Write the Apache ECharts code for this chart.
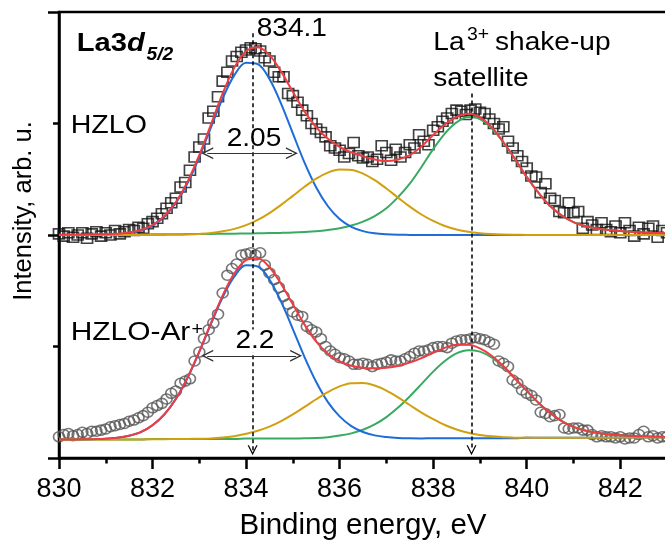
<!DOCTYPE html>
<html>
<head>
<meta charset="utf-8">
<script src="https://cdn.jsdelivr.net/npm/echarts@6/dist/echarts.min.js"></script>
<style>
    html, body { margin: 0; padding: 0; background: #fff; }
    #chart { width: 665px; height: 543px; }
</style>
</head>
<body>
<div id="chart"></div>
<script>
// energy grids (eV)
var scanStart = 830, scanStep = 0.1;
var fitStart = 830, fitStep = 0.25;
var xTickLabels = ['830', '832', '834', '836', '838', '840', '842'];

// HZLO measured points (squares), one every 0.1 eV
var hzloScan = [
    2.01, 1.99, 2.02, 1.98, 2.00, 2.02, 1.97, 2.01, 2.03, 1.99,
    2.02, 2.00, 2.04, 2.01, 2.03, 2.05, 2.04, 2.07, 2.06, 2.10,
    2.12, 2.15, 2.19, 2.24, 2.29, 2.33, 2.43, 2.47, 2.58, 2.70,
    2.79, 2.86, 3.05, 3.11, 3.24, 3.38, 3.46, 3.56, 3.60, 3.64,
    3.66, 3.68, 3.67, 3.65, 3.59, 3.56, 3.46, 3.42, 3.42, 3.27,
    3.25, 3.19, 3.12, 3.07, 3.00, 2.95, 2.92, 2.88, 2.80, 2.78,
    2.76, 2.70, 2.73, 2.83, 2.71, 2.69, 2.70, 2.66, 2.68, 2.80,
    2.74, 2.67, 2.77, 2.70, 2.74, 2.81, 2.78, 2.90, 2.84, 2.81,
    2.94, 2.97, 3.02, 3.05, 3.09, 3.12, 3.11, 3.08, 3.12, 3.13,
    3.10, 3.09, 3.04, 3.00, 2.95, 2.97, 2.84, 2.78, 2.71, 2.66,
    2.60, 2.53, 2.52, 2.38, 2.46, 2.33, 2.31, 2.21, 2.20, 2.29,
    2.20, 2.21, 2.06, 2.12, 2.09, 2.05, 2.11, 2.05, 2.03, 2.08,
    2.02, 2.11, 2.04, 1.99, 2.07, 2.01, 2.06, 2.08, 1.98, 2.04,
    2.02
];
// HZLO fit curves, one every 0.25 eV
var hzloEnvelope = [
    2.003, 2.003, 2.003, 2.005, 2.007, 2.011, 2.023, 2.045, 2.090, 2.169,
    2.296, 2.479, 2.718, 2.993, 3.270, 3.501, 3.647, 3.683, 3.613, 3.465,
    3.284, 3.109, 2.966, 2.863, 2.790, 2.742, 2.706, 2.677, 2.663, 2.677,
    2.716, 2.794, 2.896, 2.991, 3.060, 3.087, 3.056, 2.968, 2.834, 2.682,
    2.521, 2.380, 2.260, 2.175, 2.115, 2.080, 2.058, 2.045, 2.035, 2.028,
    2.023, 2.019, 2.016
];
var hzloMain = [
    2.000, 2.000, 2.000, 2.001, 2.003, 2.007, 2.018, 2.040, 2.084, 2.162,
    2.287, 2.466, 2.699, 2.965, 3.226, 3.434, 3.545, 3.532, 3.399, 3.176,
    2.911, 2.649, 2.426, 2.258, 2.143, 2.073, 2.035, 2.015, 2.006, 2.002,
    2.001, 2.000, 2.000, 2.000, 2.000, 2.000, 2.000, 2.000, 2.000, 2.000,
    2.000, 2.000, 2.000, 2.000, 2.000, 2.000, 2.000, 2.000, 2.000, 2.000,
    2.000, 2.000, 2.000
];
var hzloMid = [
    2.000, 2.000, 2.000, 2.000, 2.000, 2.000, 2.000, 2.000, 2.000, 2.001,
    2.002, 2.005, 2.010, 2.018, 2.033, 2.055, 2.089, 2.136, 2.197, 2.270,
    2.351, 2.433, 2.506, 2.560, 2.587, 2.584, 2.551, 2.492, 2.417, 2.335,
    2.255, 2.184, 2.126, 2.081, 2.050, 2.029, 2.016, 2.008, 2.004, 2.002,
    2.001, 2.000, 2.000, 2.000, 2.000, 2.000, 2.000, 2.000, 2.000, 2.000,
    2.000, 2.000, 2.000
];
var hzloSat = [
    2.003, 2.003, 2.003, 2.004, 2.004, 2.004, 2.005, 2.005, 2.006, 2.006,
    2.007, 2.008, 2.009, 2.010, 2.011, 2.012, 2.013, 2.015, 2.017, 2.019,
    2.022, 2.027, 2.034, 2.045, 2.060, 2.085, 2.120, 2.170, 2.240, 2.340,
    2.460, 2.610, 2.770, 2.910, 3.010, 3.058, 3.040, 2.960, 2.830, 2.680,
    2.520, 2.380, 2.260, 2.175, 2.115, 2.080, 2.058, 2.045, 2.035, 2.028,
    2.023, 2.019, 2.016
];

// HZLO-Ar+ measured points (circles)
var arScan = [
    0.19, 0.21, 0.22, 0.20, 0.21, 0.23, 0.22, 0.24, 0.24, 0.25,
    0.26, 0.28, 0.29, 0.30, 0.31, 0.33, 0.34, 0.36, 0.38, 0.41,
    0.45, 0.47, 0.49, 0.53, 0.58, 0.60, 0.67, 0.69, 0.71, 0.87,
    0.95, 1.07, 1.15, 1.21, 1.29, 1.48, 1.64, 1.70, 1.74, 1.82,
    1.83, 1.84, 1.82, 1.84, 1.73, 1.66, 1.60, 1.53, 1.45, 1.38,
    1.31, 1.28, 1.27, 1.18, 1.15, 1.13, 1.07, 1.00, 0.96, 0.93,
    0.90, 0.89, 0.87, 0.84, 0.84, 0.85, 0.84, 0.82, 0.84, 0.85,
    0.86, 0.88, 0.87, 0.87, 0.89, 0.91, 0.94, 0.96, 0.96, 0.97,
    0.99, 1.00, 1.00, 0.99, 1.03, 1.05, 1.06, 1.06, 1.07, 1.08,
    1.07, 1.06, 1.04, 1.02, 0.87, 0.85, 0.82, 0.70, 0.67, 0.61,
    0.58, 0.56, 0.52, 0.41, 0.40, 0.37, 0.38, 0.39, 0.27, 0.26,
    0.27, 0.27, 0.25, 0.25, 0.21, 0.19, 0.20, 0.19, 0.19, 0.18,
    0.19, 0.17, 0.18, 0.18, 0.21, 0.24, 0.19, 0.20, 0.18, 0.19,
    0.19
];
var arEnvelope = [
    0.167, 0.167, 0.168, 0.170, 0.173, 0.182, 0.200, 0.233, 0.295, 0.390,
    0.532, 0.723, 0.957, 1.212, 1.459, 1.656, 1.775, 1.791, 1.711, 1.561,
    1.378, 1.196, 1.043, 0.934, 0.866, 0.827, 0.809, 0.804, 0.810, 0.826,
    0.855, 0.896, 0.945, 0.988, 1.016, 1.016, 0.983, 0.917, 0.825, 0.715,
    0.604, 0.496, 0.405, 0.331, 0.279, 0.246, 0.226, 0.211, 0.204, 0.198,
    0.194, 0.191, 0.189
];
var arMain = [
    0.166, 0.166, 0.167, 0.169, 0.172, 0.181, 0.199, 0.232, 0.294, 0.389,
    0.530, 0.720, 0.951, 1.203, 1.442, 1.628, 1.728, 1.717, 1.600, 1.400,
    1.156, 0.905, 0.681, 0.501, 0.373, 0.286, 0.233, 0.203, 0.188, 0.180,
    0.177, 0.176, 0.178, 0.178, 0.178, 0.178, 0.178, 0.178, 0.178, 0.178,
    0.181, 0.181, 0.181, 0.181, 0.181, 0.181, 0.181, 0.181, 0.184, 0.184,
    0.184, 0.184, 0.184
];
var arMid = [
    0.166, 0.166, 0.166, 0.166, 0.166, 0.166, 0.166, 0.166, 0.169, 0.169,
    0.170, 0.171, 0.173, 0.176, 0.184, 0.195, 0.217, 0.244, 0.281, 0.331,
    0.391, 0.458, 0.527, 0.591, 0.642, 0.670, 0.673, 0.650, 0.605, 0.544,
    0.475, 0.407, 0.348, 0.296, 0.256, 0.227, 0.207, 0.194, 0.187, 0.182,
    0.183, 0.181, 0.181, 0.181, 0.181, 0.181, 0.181, 0.181, 0.184, 0.184,
    0.184, 0.184, 0.184
];
var arSat = [
    0.167, 0.167, 0.167, 0.167, 0.167, 0.167, 0.167, 0.167, 0.170, 0.170,
    0.170, 0.170, 0.171, 0.171, 0.171, 0.171, 0.174, 0.174, 0.174, 0.174,
    0.175, 0.177, 0.179, 0.186, 0.201, 0.221, 0.253, 0.301, 0.367, 0.452,
    0.553, 0.663, 0.775, 0.870, 0.938, 0.967, 0.954, 0.901, 0.816, 0.711,
    0.602, 0.496, 0.405, 0.331, 0.279, 0.246, 0.226, 0.211, 0.204, 0.198,
    0.194, 0.191, 0.189
];

// guide lines: peak positions and FWHM arrows (eV, intensity)
var guideX = [834.14, 838.82];
var guideTop = [3.81, 3.27];
var guideBottom = 0.07;
var fwhmFrom = [[833.17, 2.733], [833.17, 0.917]];
var fwhmTo = [[834.98, 2.733], [835.07, 0.917]];

var FONT = '"Liberation Sans", Arial, Helvetica, sans-serif';
var CHEVRON = 'path://M0,10L5,0L10,10L8.7,10L5,2.6L1.3,10Z';

function toPairs(start, step, vals) {
    var out = [];
    for (var i = 0; i < vals.length; i++) {
        out.push([Math.round((start + i * step) * 100) / 100, vals[i]]);
    }
    return out;
}

// free text placed by its baseline; the figure's lettering is a bit wide, hence scaleX
function txt(str, x, base, size, opts) {
    opts = opts || {};
    var style = {
        text: str,
        fill: '#000',
        fontFamily: FONT,
        fontSize: size,
        fontWeight: opts.weight || 'normal',
        fontStyle: opts.style || 'normal',
        textAlign: 'left',
        textVerticalAlign: 'middle',
        verticalAlign: 'middle'
    };
    if (opts.rich) style.rich = opts.rich;
    if (opts.bg) {
        style.backgroundColor = opts.bg;
        style.padding = [0, 1];
        style.lineHeight = size - 3;
    }
    return {
        type: 'text', x: x, y: base - size * 0.35, z: 100, silent: true,
        scaleX: opts.sx || 1.08, style: style
    };
}

function curve(name, vals, color, z, markLine) {
    var s = {
        name: name, type: 'line', data: toPairs(fitStart, fitStep, vals),
        symbol: 'none', showSymbol: false, smooth: 0.35, z: z, silent: true,
        lineStyle: { color: color, width: 2 }
    };
    if (markLine) s.markLine = markLine;
    return s;
}

function scan(name, vals, symbol, border) {
    return {
        name: name, type: 'scatter', data: toPairs(scanStart, scanStep, vals),
        symbol: symbol, symbolSize: [11, 10], z: 1, silent: true,
        itemStyle: { color: 'rgba(0,0,0,0)', borderColor: border, borderWidth: 1.6 }
    };
}

var guideLines = [];
for (var i = 0; i < guideX.length; i++) {
    guideLines.push([{ coord: [guideX[i], guideTop[i]] }, { coord: [guideX[i], guideBottom] }]);
}
var fwhmLines = [];
for (var j = 0; j < fwhmFrom.length; j++) {
    fwhmLines.push([{ coord: fwhmFrom[j] }, { coord: fwhmTo[j] }]);
}

var blue = '#1d6cd8', red = '#ee3d42', orange = '#d2a00e', green = '#38aa62';

var chart = echarts.init(document.getElementById('chart'), null, { renderer: 'canvas' });

var option = {
    animation: false,
    backgroundColor: '#fff',
    grid: {
        left: 59, right: -2, top: 12, bottom: 85,
        show: true, borderColor: '#000', borderWidth: 2.5,
        containLabel: false, outerBoundsMode: 'none'
    },
    xAxis: [
        {
            type: 'value', min: 830, max: 843, interval: 2, position: 'bottom',
            axisLine: { show: true, lineStyle: { color: '#000', width: 2.5 } },
            axisTick: { show: true, inside: false, length: 11, lineStyle: { color: '#000', width: 2.5 } },
            axisLabel: {
                show: true, margin: 18, fontSize: 27, fontFamily: FONT, color: '#000',
                showMinLabel: true, showMaxLabel: false,
                formatter: function (v) {
                    var s = String(v);
                    return xTickLabels.indexOf(s) >= 0 ? s : '';
                }
            },
            splitLine: { show: false },
            name: 'Binding energy, eV', nameLocation: 'middle', nameGap: 53,
            nameTextStyle: { fontSize: 29.5, fontFamily: FONT, color: '#000' }
        },
        {
            type: 'value', min: 830, max: 843, interval: 1, position: 'bottom',
            axisLine: { show: false },
            axisTick: { show: true, inside: false, length: 5.5, lineStyle: { color: '#000', width: 2.5 } },
            axisLabel: { show: false },
            splitLine: { show: false }
        }
    ],
    yAxis: {
        type: 'value', min: 0, max: 4, interval: 2,
        axisLine: { show: true, lineStyle: { color: '#000', width: 2.5 } },
        axisTick: { show: true, inside: false, length: 11, lineStyle: { color: '#000', width: 2.5 } },
        minorTick: { show: true, splitNumber: 2, length: 6, lineStyle: { color: '#000', width: 2.5 } },
        axisLabel: { show: false },
        splitLine: { show: false },
        minorSplitLine: { show: false },
        name: 'Intensity, arb. u.', nameLocation: 'middle', nameGap: 22,
        nameTextStyle: { fontSize: 25.5, fontFamily: FONT, color: '#000', padding: [0, 0, 0, 48] }
    },
    series: [
        scan('HZLO', hzloScan, 'rect', '#111'),
        scan('HZLO-Ar+', arScan, 'circle', '#555'),
        curve('HZLO satellite', hzloSat, green, 2),
        curve('HZLO main', hzloMain, blue, 3),
        curve('HZLO mid', hzloMid, orange, 4),
        curve('HZLO fit', hzloEnvelope, red, 5, {
            silent: true, symbol: ['none', CHEVRON], symbolSize: 10,
            label: { show: false }, emphasis: { disabled: true },
            lineStyle: { color: '#000', width: 1.5, type: [4, 3], opacity: 1 },
            data: guideLines
        }),
        curve('Ar satellite', arSat, green, 2),
        curve('Ar main', arMain, blue, 3),
        curve('Ar mid', arMid, orange, 4),
        curve('Ar fit', arEnvelope, red, 5, {
            silent: true, symbol: [CHEVRON, CHEVRON], symbolSize: 12,
            label: { show: false }, emphasis: { disabled: true },
            lineStyle: { color: '#333', width: 1.2, type: 'solid', opacity: 1 },
            data: fwhmLines
        })
    ],
    graphic: [
        txt('{n|La3}{i|d}', 76.7, 53, 26.5, {
            sx: 1.1,
            rich: {
                n: { fontFamily: FONT, fontSize: 26.5, fontWeight: 'bold', color: '#000' },
                i: { fontFamily: FONT, fontSize: 26.5, fontWeight: 'bold', fontStyle: 'italic', color: '#000' }
            }
        }),
        txt('5/2', 146.5, 61, 17.5, { weight: 'bold', style: 'italic', sx: 1.1 }),
        txt('HZLO', 70.7, 135, 26, { sx: 1.1 }),
        txt('HZLO-Ar', 70.7, 341.7, 26, { sx: 1.15 }),
        txt('+', 191.5, 336, 18),
        txt('2.05', 226.7, 148.3, 26),
        txt('2.2', 234.3, 350, 26, { bg: '#fff' }),
        txt('834.1', 256.7, 37.7, 26),
        txt('La', 433.3, 52.3, 26),
        txt('3+', 467, 41.7, 18),
        txt('shake-up', 495, 52.3, 26),
        txt('satellite', 433.3, 87.7, 26)
    ]
};
chart.setOption(option);
</script>
</body>
</html>
